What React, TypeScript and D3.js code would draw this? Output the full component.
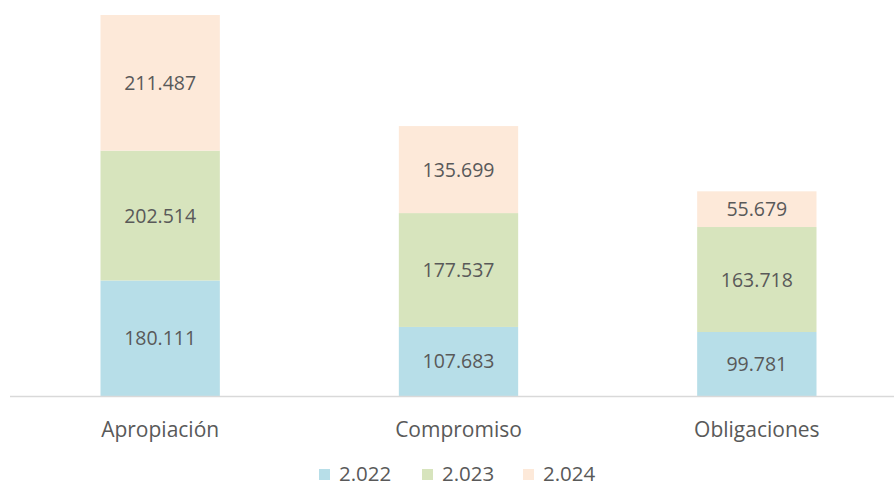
import * as d3 from "d3";

const categories = ["Apropiación", "Compromiso", "Obligaciones"];
const years = ["2.022", "2.023", "2.024"];
const values2022 = [180111, 107683, 99781];
const values2023 = [202514, 177537, 163718];
const values2024 = [211487, 135699, 55679];

const COLORS = ["#b7dee8", "#d7e4bd", "#fde9d9"];
const TEXT = "#595959";
const FONT = "'Open Sans', sans-serif";

const fmt = (v: number) => d3.format(",")(v).replace(/,/g, ".");

export default function App() {
  const width = 894;
  const height = 487;
  const baseline = 396;

  const rows = categories.map((c, i) => ({
    cat: c,
    y2022: values2022[i],
    y2023: values2023[i],
    y2024: values2024[i],
  }));
  const keys = ["y2022", "y2023", "y2024"];
  const stacked = d3.stack<any>().keys(keys)(rows);

  const x = d3
    .scaleBand()
    .domain(categories)
    .range([11, 906])
    .paddingInner(0.6)
    .paddingOuter(0.3);

  const maxTotal = d3.max(rows, (r) => r.y2022 + r.y2023 + r.y2024) ?? 0;
  const y = d3.scaleLinear().domain([0, maxTotal]).range([baseline, 15]);

  // legend placement (text kept inside the bottom edge)
  const legendX = [319, 422, 523];
  const legendBase = 481;

  return (
    <div style={{ position: "fixed", left: 0, top: 0, background: "#fff" }}>
      <svg width={width} height={height} style={{ display: "block" }}>
        <rect width={width} height={height} fill="#fff" />
        {stacked.map((layer, li) => (
          <g key={layer.key} fill={COLORS[li]}>
            {layer.map((d, i) => {
              const x0 = x(categories[i]) ?? 0;
              const top = y(d[1]);
              const bottom = y(d[0]);
              return (
                <g key={i}>
                  <rect x={x0} y={top} width={x.bandwidth()} height={bottom - top} />
                  <text
                    x={x0 + x.bandwidth() / 2}
                    y={(top + bottom) / 2}
                    dy="0.36em"
                    textAnchor="middle"
                    fontFamily={FONT}
                    fontSize={19.5}
                    fill={TEXT}
                  >
                    {fmt(d[1] - d[0])}
                  </text>
                </g>
              );
            })}
          </g>
        ))}
        <line x1={10} x2={894} y1={baseline + 0.5} y2={baseline + 0.5} stroke="#d9d9d9" strokeWidth={1.5} />
        {categories.map((c) => (
          <text
            key={c}
            x={(x(c) ?? 0) + x.bandwidth() / 2}
            y={437}
            textAnchor="middle"
            fontFamily={FONT}
            fontSize={21}
            fill={TEXT}
          >
            {c}
          </text>
        ))}
        {years.map((yr, i) => (
          <g key={yr}>
            <rect x={legendX[i]} y={legendBase - 12} width={11} height={11} fill={COLORS[i]} />
            <text
              x={legendX[i] + 20}
              y={legendBase}
              fontFamily={FONT}
              fontSize={20.5}
              fill={TEXT}
            >
              {yr}
            </text>
          </g>
        ))}
      </svg>
    </div>
  );
}
